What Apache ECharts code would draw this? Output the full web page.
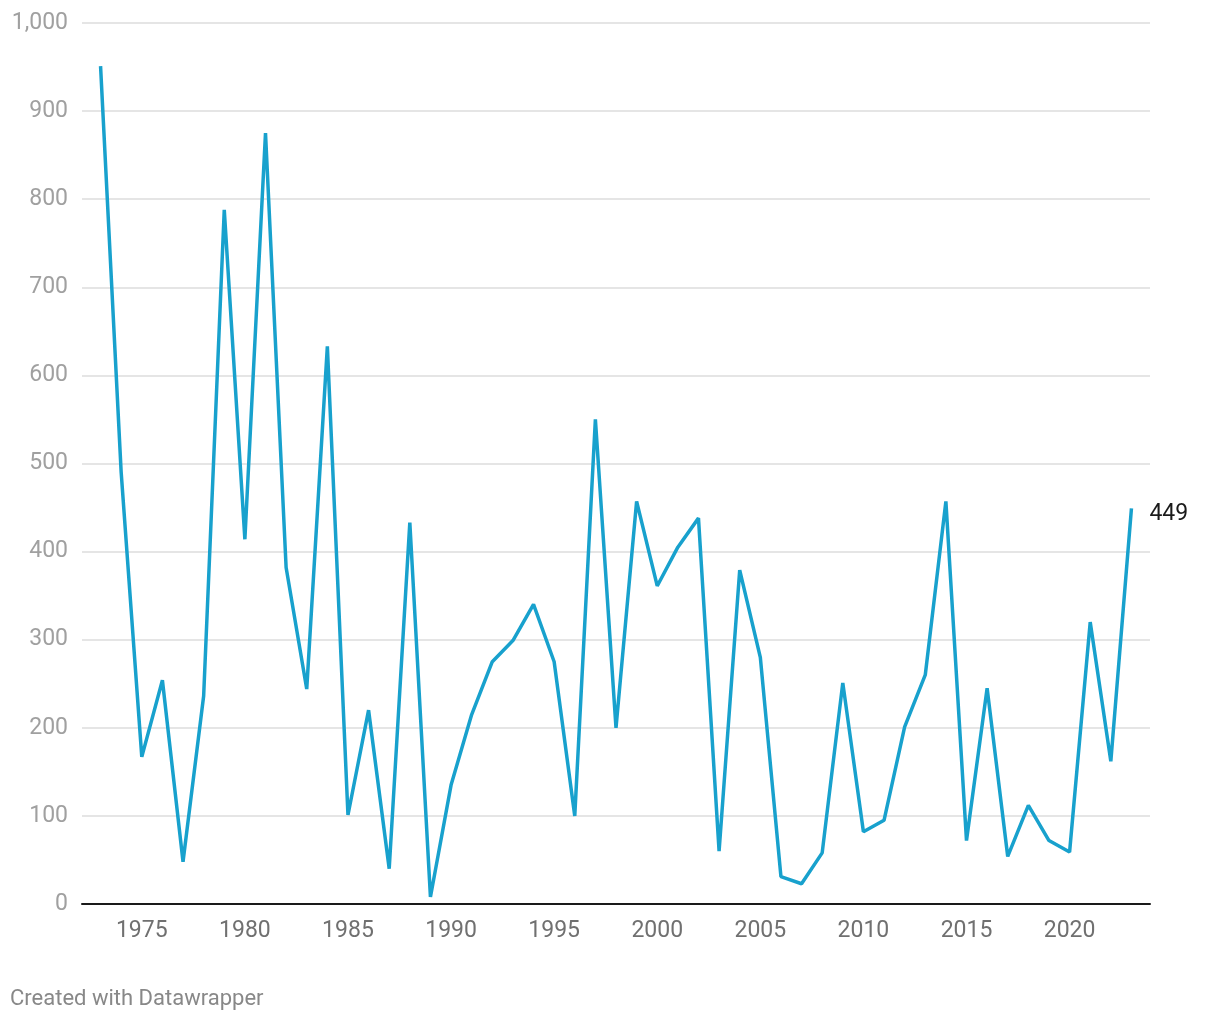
<!DOCTYPE html>
<html>
<head>
<meta charset="utf-8">
<script src="https://cdn.jsdelivr.net/npm/echarts@6/dist/echarts.min.js"></script>
<style>
html,body{margin:0;padding:0;background:#fff;}
#chart{width:1220px;height:1020px;}
</style>
</head>
<body>
<div id="chart"></div>
<script>
const years = [1973,1974,1975,1976,1977,1978,1979,1980,1981,1982,1983,1984,1985,1986,1987,1988,1989,1990,1991,1992,1993,1994,1995,1996,1997,1998,1999,2000,2001,2002,2003,2004,2005,2006,2007,2008,2009,2010,2011,2012,2013,2014,2015,2016,2017,2018,2019,2020,2021,2022,2023];
const values = [951,490,167,254,48,236,788,414,875,382,244,633,101,220,40,433,8,135,215,275,299,340,275,100,550,200,457,361,405,438,60,379,280,31,23,58,251,82,95,201,260,457,72,245,54,112,72,59,320,162,449];
const xTicks = [1975,1980,1985,1990,1995,2000,2005,2010,2015,2020];
const yTicks = [0,100,200,300,400,500,600,700,800,900,1000];

const data = years.map((y,i)=>[y, values[i]]);
const chart = echarts.init(document.getElementById('chart'), null, {renderer:'canvas'});
chart.setOption({
  animation:false,
  backgroundColor:'#ffffff',
  grid:{left:82,right:70,top:23,bottom:116,containLabel:false},
  xAxis:{
    type:'value', min:1972.1, max:2023.9,
    splitLine:{show:false},
    axisLine:{show:true,lineStyle:{color:'#1a1a1a',width:2}},
    axisTick:{show:false},
    axisLabel:{
      customValues:xTicks, color:'#707070', fontFamily:'Roboto', fontSize:23, margin:16,
      formatter:v=>String(v)
    }
  },
  yAxis:{
    type:'value', min:0, max:1000, interval:100,
    axisLine:{show:false}, axisTick:{show:false},
    splitLine:{show:true,lineStyle:{color:'#e5e5e5',width:2}},
    axisLabel:{
      color:'#a0a0a0', fontFamily:'Roboto', fontSize:23, margin:14, padding:[3,0,0,0],
      formatter:v=>v.toLocaleString('en-US')
    }
  },
  series:[{
    type:'line', data:data, showSymbol:false, symbol:'none',
    lineStyle:{color:'#18a1cd',width:3.5},
    itemStyle:{color:'#18a1cd'},
    endLabel:{show:true, distance:18, offset:[0,6], color:'#1a1a1a', fontFamily:'Roboto', fontSize:23,
      formatter:p=>String(p.value[1])}
  }],
  graphic:[{
    type:'text', left:10, top:988,
    style:{text:'Created with Datawrapper', fill:'#888888', font:'22px Roboto'}
  }]
});
</script>
</body>
</html>
